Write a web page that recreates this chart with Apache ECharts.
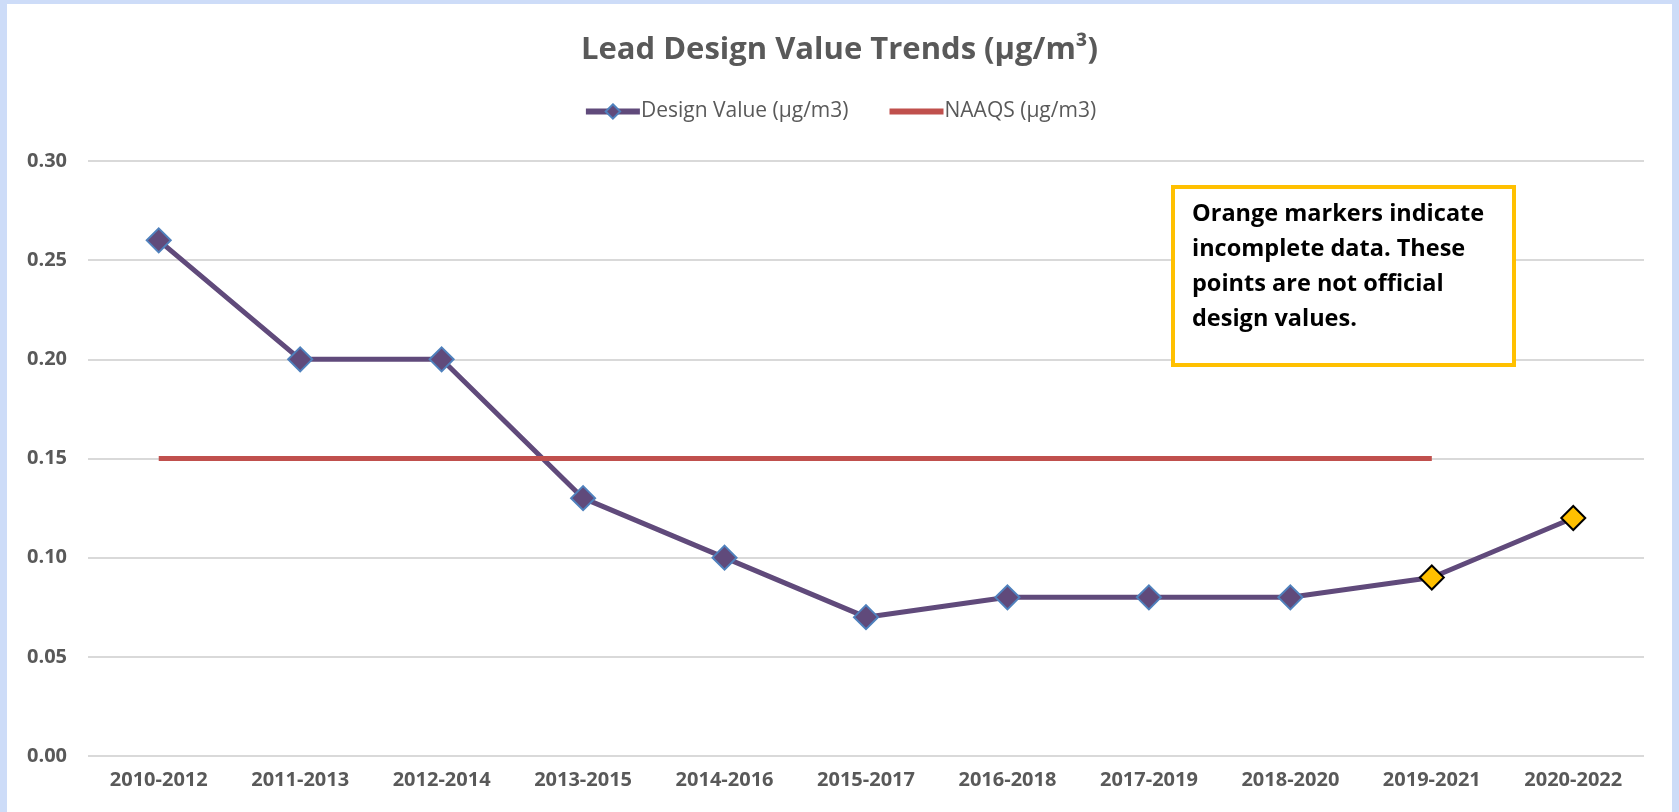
<!DOCTYPE html>
<html>
<head>
<meta charset="utf-8">
<script src="https://cdn.jsdelivr.net/npm/echarts@6/dist/echarts.min.js"></script>
<style>
  html,body{margin:0;padding:0;width:1679px;height:812px;overflow:hidden;background:#cddcf8}
  #chart{position:absolute;left:7px;top:4px;width:1665px;height:808px;background:#fff}
</style>
</head>
<body>
<div id="chart"></div>
<script>
// ---------- 数据 ----------
const periods = ['2010-2012','2011-2013','2012-2014','2013-2015','2014-2016','2015-2017','2016-2018','2017-2019','2018-2020','2019-2021','2020-2022'];
const designValues = [0.26, 0.20, 0.20, 0.13, 0.10, 0.07, 0.08, 0.08, 0.08, 0.09, 0.12];
const incomplete = [false,false,false,false,false,false,false,false,false,true,true];
const naaqs = [0.15,0.15,0.15,0.15,0.15,0.15,0.15,0.15,0.15,0.15,null];
const yTicks = {min:0, max:0.30, step:0.05};

const gray = '#595959';
const font = '"Open Sans", "Noto Sans", sans-serif';

// 未完成数据用橙色标记
const dvData = designValues.map((v,i)=> incomplete[i]
  ? {value:v, itemStyle:{color:'#FFC000', borderColor:'#000', borderWidth:2}}
  : v);

const chart = echarts.init(document.getElementById('chart'));
chart.setOption({
  animation:false,
  title:{
    text:'Lead Design Value Trends (µg/m³)',
    left:'center', top:26,
    textStyle:{fontFamily:font, fontSize:31, fontWeight:'bold', color:gray}
  },
  legend:{
    top:92, left:'center',
    itemWidth:54, itemHeight:18, itemGap:38,
    lineStyle:{width:6},
    textStyle:{fontFamily:font, fontSize:21, color:gray, padding:[0,0,0,-4]},
    data:[
      {name:'Design Value (µg/m3)'},
      {name:'NAAQS (µg/m3)', itemStyle:{opacity:0}}
    ]
  },
  grid:{left:81, right:28, top:157, bottom:56, containLabel:false},
  xAxis:{
    type:'category', data:periods, boundaryGap:true,
    axisLine:{show:false}, axisTick:{show:false},
    axisLabel:{fontFamily:font, fontSize:20, fontWeight:'bold', color:gray, margin:14, interval:0}
  },
  yAxis:{
    type:'value', min:yTicks.min, max:yTicks.max, interval:yTicks.step,
    axisLine:{show:false}, axisTick:{show:false},
    axisLabel:{fontFamily:font, fontSize:20, fontWeight:'bold', color:gray, margin:21,
      formatter:v=>v.toFixed(2)},
    splitLine:{lineStyle:{color:'#d9d9d9', width:2}}
  },
  series:[
    {
      name:'Design Value (µg/m3)', type:'line', data:dvData,
      symbol:'diamond', symbolSize:24,
      lineStyle:{color:'#604A7B', width:5},
      itemStyle:{color:'#604A7B', borderColor:'#4F81BD', borderWidth:2}
    },
    {
      name:'NAAQS (µg/m3)', type:'line', data:naaqs,
      symbol:'none', connectNulls:false,
      lineStyle:{color:'#C0504D', width:5},
      itemStyle:{color:'#C0504D'}
    }
  ],
  graphic:[
    {type:'rect', left:1164, top:181, shape:{width:341, height:178},
     style:{fill:'#fff', stroke:'#FFC000', lineWidth:4}, z:100},
    {type:'text', left:1185, top:193, z:101,
     style:{text:'Orange markers indicate\nincomplete data. These\npoints are not official\ndesign values.',
       font:'bold 23.5px "Open Sans", sans-serif', fill:'#000', lineHeight:35}}
  ]
});
</script>
</body>
</html>
